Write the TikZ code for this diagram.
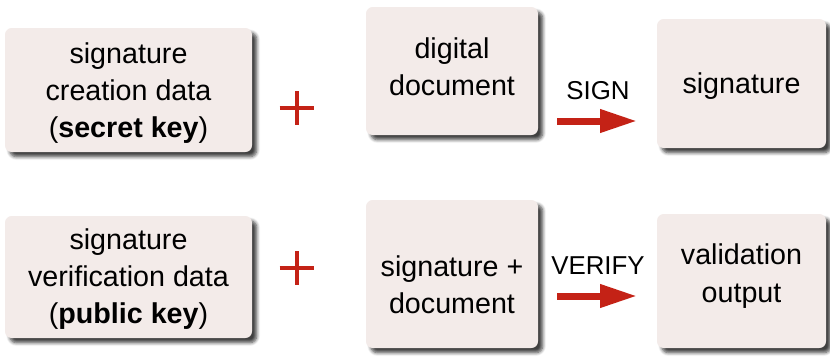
\documentclass[tikz,border=0pt]{standalone}
\usepackage{fontspec}
\setmainfont{Liberation Sans}
\usetikzlibrary{arrows.meta,shadows.blur}
\definecolor{boxfill}{RGB}{243,235,233}
\definecolor{accent}{RGB}{196,34,22}
\tikzset{
  card/.style={draw=none, fill=boxfill, rounded corners=5pt, inner sep=0pt,
    blur shadow={shadow xshift=3.5pt, shadow yshift=-3.5pt, shadow blur radius=2.5pt, shadow blur steps=6, shadow opacity=75}},
  txt/.style={align=center, font=\fontsize{21.5}{28}\selectfont, text=black, inner sep=0pt},
  lbl/.style={font=\fontsize{19.4}{23}\selectfont, text=black, inner sep=0pt},
  bigarrow/.style={draw=accent, line width=5.25pt, -{Triangle[length=27.75pt,width=16.5pt]}},
  plusmark/.style={draw=accent, line width=3.6pt},
}
\begin{document}
\begin{tikzpicture}[x=0.75pt,y=-0.75pt]
\useasboundingbox (0,0) rectangle (830,362);
% boxes
\node[card, minimum width=185.25pt, minimum height=93pt]   (b1) at (128.5,90) {};
\node[card, minimum width=185.25pt, minimum height=91.5pt] (b4) at (128.5,277) {};
\node[card, minimum width=129pt, minimum height=96pt]      (b2) at (452,71) {};
\node[card, minimum width=129pt, minimum height=111pt]     (b5) at (452,274) {};
\node[card, minimum width=126.75pt, minimum height=96.75pt] (b3) at (741.5,83.5) {};
\node[card, minimum width=126.75pt, minimum height=100.5pt] (b6) at (741.5,281) {};
% texts
\node[txt] (t1) at (128.5,93) {signature\\creation data\\(\textbf{secret key})};
\node[txt] (t4) at (128.5,279) {signature\\verification data\\(\textbf{public key})};
\node[txt] (t2) at (452,67) {digital\\document};
\node[txt] (t5) at (452,285) {signature +\\document};
\node[txt] (t3) at (741.5,86) {signature};
\node[txt] (t6) at (741.5,276) {validation\\output};
% plus signs
\coordinate (p1) at (297,108);
\coordinate (p2) at (297,268);
\draw[plusmark] ([xshift=-13pt]p1) -- ([xshift=13pt]p1) ([yshift=-12.5pt]p1) -- ([yshift=12.5pt]p1);
\draw[plusmark] ([xshift=-13pt]p2) -- ([xshift=13pt]p2) ([yshift=-12.5pt]p2) -- ([yshift=12.5pt]p2);
% arrows
\coordinate (s1) at (557,121);
\coordinate (s2) at (637,121);
\coordinate (v1) at (557,296);
\coordinate (v2) at (637,296);
\draw[bigarrow] (s1) -- (s2);
\draw[bigarrow] (v1) -- (v2);
\node[lbl] (sign) at (598,90.5) {SIGN};
\node[lbl] (verify) at (598,266) {VERIFY};
\end{tikzpicture}
\end{document}
